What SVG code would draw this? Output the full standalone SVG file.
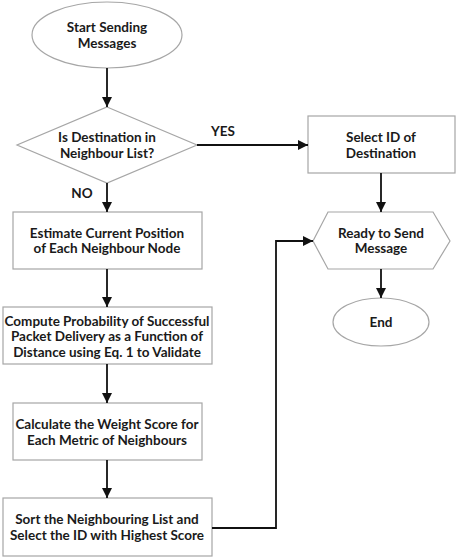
<svg xmlns="http://www.w3.org/2000/svg" width="474" height="558" viewBox="0 0 474 558">
<style>
.s{fill:#fff;stroke:#a6a6a6;stroke-width:1.2}
.t{font-family:Lato,"Open Sans",sans-serif;font-weight:bold;font-size:13.5px;fill:#1a1a1a;text-anchor:middle}
.c{fill:none;stroke:#111;stroke-width:1.8}
</style>
<defs>
<marker id="a" viewBox="0 0 10 10" refX="10" refY="5" markerWidth="10" markerHeight="10" markerUnits="userSpaceOnUse" orient="auto">
<path d="M0,0 L10,5 L0,10 z" fill="#111"/>
</marker>
</defs>
<rect width="474" height="558" fill="#fff"/>
<g id="start"><ellipse class="s" cx="107" cy="35" rx="75" ry="33"/>
<text class="t" x="107" y="32">Start Sending</text><text class="t" x="107" y="48">Messages</text></g>
<g id="decision"><polygon class="s" points="107,107 197,145 107,183 17,145"/>
<text class="t" x="107" y="142">Is Destination in</text><text class="t" x="107" y="158">Neighbour List?</text></g>
<g id="select"><rect class="s" x="308" y="116" width="147" height="57"/>
<text class="t" x="381" y="142">Select ID of</text><text class="t" x="381" y="158">Destination</text></g>
<g id="ready"><polygon class="s" points="328,212 433,212 450,241 433,269 328,269 313,241"/>
<text class="t" x="381" y="238">Ready to Send</text><text class="t" x="381" y="253">Message</text></g>
<g id="end"><ellipse class="s" cx="381" cy="322" rx="48" ry="24"/>
<text class="t" x="381" y="327">End</text></g>
<g id="estimate"><rect class="s" x="13" y="212" width="189" height="57"/>
<text class="t" x="107" y="238">Estimate Current Position</text><text class="t" x="107" y="253">of Each Neighbour Node</text></g>
<g id="compute"><rect class="s" x="3" y="307" width="209" height="57"/>
<text class="t" x="107" y="326">Compute Probability of Successful</text><text class="t" x="107" y="341">Packet Delivery as a Function of</text><text class="t" x="107" y="357">Distance using Eq. 1 to Validate</text></g>
<g id="calculate"><rect class="s" x="13" y="403" width="189" height="57"/>
<text class="t" x="107" y="429">Calculate the Weight Score for</text><text class="t" x="107" y="445">Each Metric of Neighbours</text></g>
<g id="sort"><rect class="s" x="3" y="498" width="209" height="58"/>
<text class="t" x="107" y="524">Sort the Neighbouring List and</text><text class="t" x="107" y="540">Select the ID with Highest Score</text></g>
<g id="connectors">
<path class="c" d="M107,68 V107" marker-end="url(#a)"/>
<path class="c" d="M197,145 H308" marker-end="url(#a)"/>
<path class="c" d="M381,173 V212" marker-end="url(#a)"/>
<path class="c" d="M381,269 V298" marker-end="url(#a)"/>
<path class="c" d="M107,183 V212" marker-end="url(#a)"/>
<path class="c" d="M107,269 V307" marker-end="url(#a)"/>
<path class="c" d="M107,364 V403" marker-end="url(#a)"/>
<path class="c" d="M107,460 V498" marker-end="url(#a)"/>
<path class="c" d="M212,528 H276 V241 H313" marker-end="url(#a)"/>
<text class="t" x="223" y="136">YES</text>
<text class="t" x="82" y="198">NO</text>
</g>
</svg>
